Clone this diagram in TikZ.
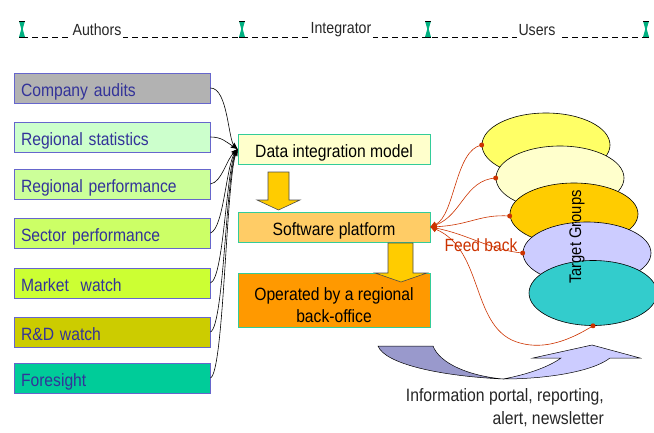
\documentclass[tikz,border=0pt]{standalone}
\usepackage{fontspec}
\setmainfont[FakeStretch=0.88]{Liberation Sans}
\usetikzlibrary{shapes.geometric,arrows.meta}
\definecolor{boxblue}{HTML}{6666CC}
\definecolor{txtblue}{HTML}{333399}
\definecolor{tealb}{HTML}{33CC99}
\definecolor{fbred}{HTML}{CC3300}
\definecolor{hgreen}{HTML}{00B080}
\tikzset{
  src/.style={draw=boxblue, line width=0.9pt, minimum height=30pt, text width=182pt, inner xsep=7pt, align=left, text=txtblue, text height=16pt, text depth=0pt, font=\fontsize{17.8}{20}\selectfont},
  mid/.style={draw=tealb, line width=0.9pt, minimum width=192pt, align=center, text=black, font=\fontsize{17.8}{22}\selectfont},
  feed/.style={draw=black, line width=0.6pt, -{Stealth[length=7pt,width=5pt]}},
  fb/.style={draw=fbred, line width=0.6pt, -{Triangle[length=6pt,width=6pt]}},
  grp/.style={ellipse, draw=black, line width=0.6pt, minimum width=128pt, minimum height=64pt},
  dot/.style={fill=fbred, circle, inner sep=0pt, minimum size=5pt},
  hdr/.style={fill=white, inner sep=2pt, text=black!85, font=\fontsize{16.1}{18}\selectfont},
  darr/.style={draw=black!70, line width=0.6pt}
}
\begin{document}
\begin{tikzpicture}[x=1pt,y=-1pt]
\useasboundingbox (0,0) rectangle (654,432);
% header
\draw[black, line width=0.6pt, dash pattern=on 6pt off 4pt] (22,37.5) -- (646,37.5);
\foreach \hx in {22,242,428,646}{
  \fill[hgreen] (\hx-3,21) -- (\hx+3,21) -- (\hx+0.7,29) -- (\hx+3,37) -- (\hx-3,37) -- (\hx-0.7,29) -- cycle;
  \draw[black, line width=0.8pt] (\hx-3,21) -- (\hx+3,21) (\hx-3,37) -- (\hx+3,37);
}
\node[hdr] (hA) at (97,30) {Authors};
\node[hdr] (hI) at (341,30) {Integrator};
\node[hdr] (hU) at (537,30) {Users};
% source boxes
\node[src, fill={rgb,255:red,178;green,178;blue,178}] (s1) at (112,88) {Company audits};
\node[src, fill={rgb,255:red,204;green,255;blue,204}] (s2) at (112,137) {Regional statistics};
\node[src, fill={rgb,255:red,204;green,255;blue,153}] (s3) at (112,184) {Regional performance};
\node[src, fill={rgb,255:red,204;green,255;blue,102}] (s4) at (112,233) {Sector performance};
\node[src, fill={rgb,255:red,204;green,255;blue,51}] (s5) at (112,283) {Market\ \ watch};
\node[src, fill={rgb,255:red,204;green,204;blue,0}] (s6) at (112,332) {R\&D watch};
\node[src, fill={rgb,255:red,0;green,204;blue,153}] (s7) at (112,378) {Foresight};
% integrator boxes
\node[mid, fill={rgb,255:red,255;green,255;blue,204}, minimum height=30pt, text height=16pt, text depth=0pt] (dim) at (334,149) {Data integration model};
\node[mid, fill={rgb,255:red,255;green,204;blue,102}, minimum height=30pt, text height=16pt, text depth=0pt] (sw) at (334,227) {Software platform};
% down arrows
\draw[darr, fill={rgb,255:red,255;green,204;blue,0}] (268,172) -- (289,172) -- (289,200) -- (300,200) -- (278.5,210) -- (257,200) -- (268,200) -- cycle;
\node[mid, fill={rgb,255:red,255;green,153;blue,0}, minimum height=54pt] (op) at (334,300) {\rule{0pt}{23pt}Operated by a regional\\back-office};
\draw[darr, fill={rgb,255:red,255;green,204;blue,0}] (388,243) -- (413,243) -- (413,273) -- (427,273) -- (401,282) -- (375,273) -- (388,273) -- cycle;
% connectors sources -> data integration
\draw[feed] (s1.east) .. controls (228,88) and (228,140) .. (dim.west);
\draw[feed] (s2.east) .. controls (222,137) and (226,142) .. (dim.west);
\draw[feed] (s3.east) .. controls (222,182) and (226,160) .. (dim.west);
\draw[feed] (s4.east) .. controls (224,228) and (226,165) .. (dim.west);
\draw[feed] (s5.east) .. controls (224,278) and (226,170) .. (dim.west);
\draw[feed] (s6.east) .. controls (224,326) and (226,175) .. (dim.west);
\draw[feed] (s7.east) .. controls (224,372) and (226,180) .. (dim.west);
% target groups
\node[grp, fill={rgb,255:red,255;green,255;blue,102}] (e1) at (546,145) {};
\node[grp, fill={rgb,255:red,255;green,255;blue,204}] (e2) at (560,178) {};
\node[grp, fill={rgb,255:red,255;green,204;blue,0}, minimum height=62pt] (e3) at (574,214) {};
\node[grp, fill={rgb,255:red,204;green,204;blue,255}, minimum height=62pt] (e4) at (587,253) {};
\node[grp, fill={rgb,255:red,51;green,204;blue,204}, minimum height=65pt] (e5) at (593,293) {};
\node[rotate=90, font=\fontsize{16.8}{18}\selectfont] (tg) at (577,237) {Target Groups};
% feedback
\coordinate (d1) at (e1.west);
\coordinate (d2) at (e2.west);
\coordinate (d3) at ([yshift=-2pt]e3.west);
\coordinate (d4) at (e4.west);
\coordinate (d5) at (e5.south);
\draw[fb] (d1) .. controls (455,150) and (455,215) .. (sw.east);
\draw[fb] (d2) .. controls (465,180) and (462,215) .. (sw.east);
\draw[fb] (d3) .. controls (480,214) and (470,225) .. (sw.east);
\draw[fb] (d4) .. controls (490,250) and (470,235) .. (sw.east);
\draw[fb] (d5) .. controls (570,340) and (545,350) .. (520,343) .. controls (470,330) and (485,250) .. (sw.east);
\foreach \d in {d1,d2,d3,d4,d5} \node[dot] at (\d) {};
\node[text=fbred, font=\fontsize{17.7}{20}\selectfont] (fbt) at (481,245) {Feed back};
% bottom curved arrow
\draw[black, line width=0.5pt, fill={rgb,255:red,153;green,153;blue,204}] (378,346) -- (433,346) .. controls (440,364) and (470,376) .. (503,379) .. controls (440,376) and (385,364) .. (378,346) -- cycle;
\draw[black, line width=0.5pt, fill={rgb,255:red,204;green,204;blue,255}] (503,379) .. controls (530,374) and (550,366) .. (561,358) -- (533,358) -- (592,345) -- (640,358) -- (610,358) .. controls (592,372) and (545,379) .. (503,379) -- cycle;
\node[align=right, anchor=north east, inner sep=0pt, font=\fontsize{17.9}{23}\selectfont, text=black!85] (info) at (604,388) {Information portal, reporting,\\alert, newsletter};
\end{tikzpicture}
\end{document}
